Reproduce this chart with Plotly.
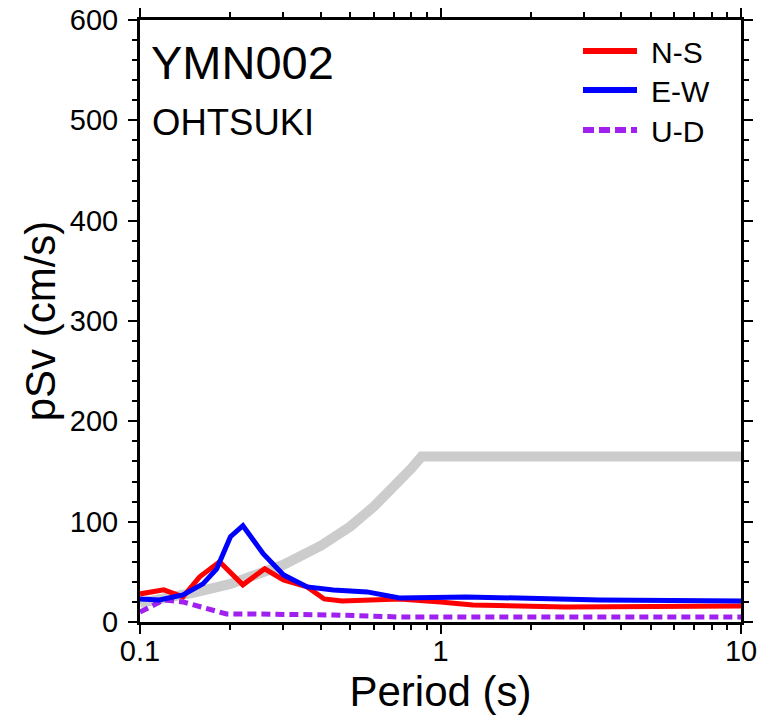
import plotly.graph_objects as go

# Reference (design) spectrum
ref_period = [0.1, 0.12, 0.15, 0.2, 0.25, 0.3, 0.4, 0.5, 0.6, 0.7, 0.8, 0.865, 10.0]
ref_psv = [19, 23, 29, 38, 48, 57, 76, 95, 115, 134, 153, 165, 165]

# N-S component
ns_period = [0.1, 0.12, 0.139, 0.158, 0.184, 0.22, 0.26, 0.30, 0.36, 0.41, 0.47, 0.57, 0.73, 1.0, 1.28, 2.6, 10.0]
ns_psv = [28, 32, 25, 45, 60, 37, 53, 42, 35, 23, 21, 22, 23, 20, 17, 15, 16]

# E-W component
ew_period = [0.1, 0.116, 0.139, 0.162, 0.18, 0.2, 0.22, 0.257, 0.30, 0.36, 0.44, 0.49, 0.57, 0.73, 1.0, 1.22, 3.4, 10.0]
ew_psv = [23, 22, 27, 38, 53, 85, 96, 68, 47, 35, 32, 31, 30, 24, 25, 25, 22, 21]

# U-D component
ud_period = [0.1, 0.12, 0.139, 0.158, 0.194, 0.23, 0.30, 0.44, 0.73, 1.0, 10.0]
ud_psv = [10, 22, 20, 15, 8, 8, 8, 7, 5, 5, 5]

legend_names = ["N-S", "E-W", "U-D"]
station = "YMN002"
site = "OHTSUKI"

FONT = "Liberation Sans, Arial, sans-serif"
RED = "#ff0000"
BLUE = "#0000ff"
PURPLE = "#a020f0"
GRAY = "#cccccc"

fig = go.Figure()
fig.add_trace(go.Scatter(x=ref_period, y=ref_psv, mode="lines",
                         line=dict(color=GRAY, width=10), showlegend=False))
fig.add_trace(go.Scatter(x=ud_period, y=ud_psv, mode="lines", name=legend_names[2],
                         line=dict(color=PURPLE, width=5, dash="9px,5px"), showlegend=False))
fig.add_trace(go.Scatter(x=ns_period, y=ns_psv, mode="lines", name=legend_names[0],
                         line=dict(color=RED, width=5), showlegend=False))
fig.add_trace(go.Scatter(x=ew_period, y=ew_psv, mode="lines", name=legend_names[1],
                         line=dict(color=BLUE, width=5), showlegend=False))

# page body has an 8px margin; figure sized so it fills the window
OFF = 8
W, H = 779 - OFF, 715 - OFF
L, T = 140 - OFF, 20 - OFF
R = OFF + W - 741
B = OFF + H - 622
pw, ph = W - L - R, H - T - B

def px(x):
    return (x - OFF - L) / pw

def py(y):
    return (OFF + H - B - y) / ph

# manual legend
leg_rows = [(51, RED, "solid"), (90, BLUE, "solid"), (130, PURPLE, "11px,5px")]
for (yy, col, dash), name in zip(leg_rows, legend_names):
    fig.add_shape(type="line", xref="paper", yref="paper",
                  x0=px(583), x1=px(637), y0=py(yy), y1=py(yy),
                  line=dict(color=col, width=6, dash=dash))
    fig.add_annotation(xref="paper", yref="paper", x=px(649), y=py(yy + 1),
                       text=name, showarrow=False, xanchor="left", yanchor="middle",
                       font=dict(family=FONT, size=30, color="black"))

fig.add_annotation(xref="paper", yref="paper", x=px(149), y=py(63),
                   text=station, showarrow=False, xanchor="left", yanchor="middle",
                   font=dict(family=FONT, size=47, color="black"))
fig.add_annotation(xref="paper", yref="paper", x=px(150), y=py(123),
                   text=site, showarrow=False, xanchor="left", yanchor="middle",
                   font=dict(family=FONT, size=36.5, color="black"))

axis_common = dict(showline=True, linecolor="black", linewidth=3, mirror="ticks",
                   ticks="outside", tickcolor="black", tickwidth=2, ticklen=9,
                   showgrid=False, zeroline=False, ticklabeloverflow="allow",
                   tickfont=dict(family=FONT, size=29, color="black"))

fig.update_xaxes(type="log", range=[-1, 1], tickvals=[0.1, 1, 10], ticktext=["0.1", "1", "10"],
                 ticklabelstandoff=-8,
                 minor=dict(ticks="outside", ticklen=5, tickwidth=2, tickcolor="black",
                            tickvals=[0.2, 0.3, 0.4, 0.5, 0.6, 0.7, 0.8, 0.9,
                                      2, 3, 4, 5, 6, 7, 8, 9], showgrid=False),
                 title=dict(text="Period (s)", font=dict(family=FONT, size=42, color="black"), standoff=12),
                 **axis_common)
fig.update_yaxes(range=[0, 600], dtick=100, ticklabelstandoff=4,
                 minor=dict(ticks="outside", ticklen=5, tickwidth=2, tickcolor="black", dtick=20, showgrid=False),
                 title=dict(text="pSv (cm/s)", font=dict(family=FONT, size=42, color="black"), standoff=2),
                 **axis_common)

fig.update_layout(width=W, height=H, margin=dict(l=L, r=R, t=T, b=B, autoexpand=False),
                  plot_bgcolor="white", paper_bgcolor="white", showlegend=False)

fig.write_html("out.html")
